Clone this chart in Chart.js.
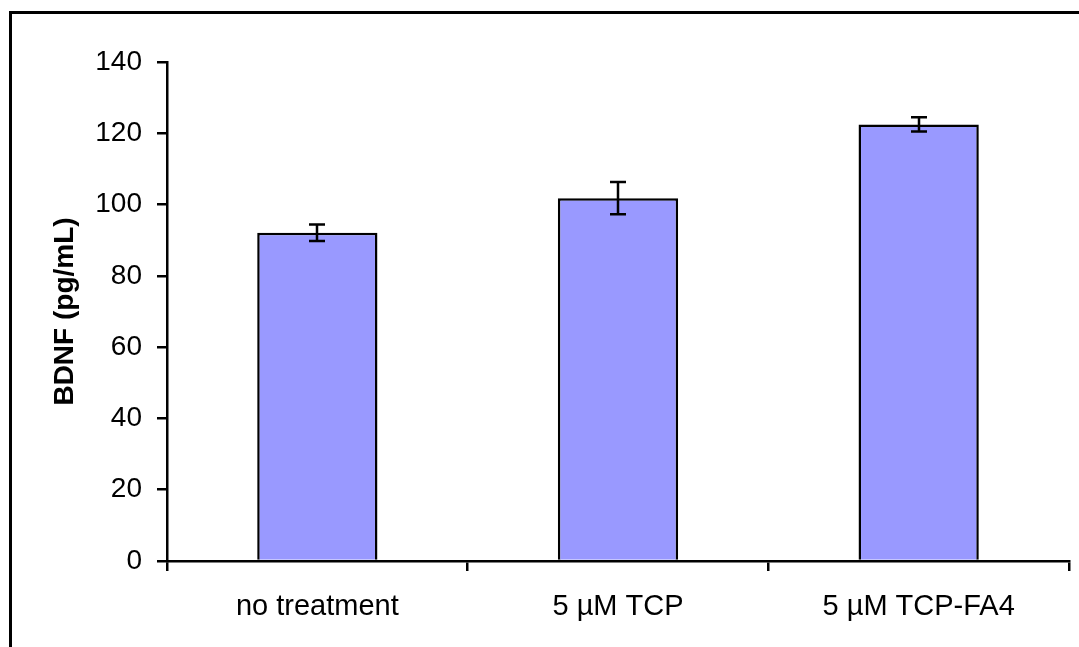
<!DOCTYPE html>
<html>
<head>
<meta charset="utf-8">
<script src="https://cdn.jsdelivr.net/npm/chart.js@4"></script>
<style>
  html, body { margin: 0; padding: 0; background: #fff; overflow: hidden; }
  #wrap { width: 1079px; height: 647px; }
</style>
</head>
<body>
<div id="wrap"><canvas id="chart"></canvas></div>
<script>
// valores
const categories = ["no treatment", "5 µM TCP", "5 µM TCP-FA4"];
const bdnfValues = [92.1, 101.8, 122.5];
const bdnfErrors = [2.3, 4.5, 2.0];
const yTicks = [0, 20, 40, 60, 80, 100, 120, 140];

const FONT = "'Liberation Sans', Arial, sans-serif";

// moldura externa (só as bordas esquerda e superior aparecem)
const framePlugin = {
  id: "frame",
  beforeDraw(chart) {
    const ctx = chart.ctx;
    ctx.save();
    ctx.fillStyle = "#fff";
    ctx.fillRect(0, 0, chart.width, chart.height);
    ctx.strokeStyle = "#000";
    ctx.lineWidth = 3;
    ctx.strokeRect(10.5, 12.5, 2000, 2000);
    ctx.restore();
  },
};

// barras de erro desenhadas pelas escalas do gráfico
const errorBarPlugin = {
  id: "errorBars",
  afterDatasetsDraw(chart) {
    const ctx = chart.ctx;
    const meta = chart.getDatasetMeta(0);
    const y = chart.scales.y;
    ctx.save();
    ctx.strokeStyle = "#000";
    ctx.lineWidth = 2.5;
    meta.data.forEach((bar, i) => {
      const x = Math.round(bar.x);
      const top = y.getPixelForValue(bdnfValues[i] + bdnfErrors[i]);
      const bot = y.getPixelForValue(bdnfValues[i] - bdnfErrors[i]);
      ctx.beginPath();
      ctx.moveTo(x, top);
      ctx.lineTo(x, bot);
      ctx.moveTo(x - 8, top);
      ctx.lineTo(x + 8, top);
      ctx.moveTo(x - 8, bot);
      ctx.lineTo(x + 8, bot);
      ctx.stroke();
    });
    ctx.restore();
  },
};

new Chart(document.getElementById("chart"), {
  type: "bar",
  data: {
    labels: categories,
    datasets: [
      {
        data: bdnfValues,
        backgroundColor: "#9999FF",
        borderColor: "#000",
        borderWidth: 2.5,
        categoryPercentage: 1,
        barPercentage: 0.4,
      },
    ],
  },
  options: {
    responsive: true,
    maintainAspectRatio: false,
    animation: false,
    layout: { padding: { top: 62, right: 10, left: 0, bottom: 0 } },
    plugins: {
      legend: { display: false },
      tooltip: { enabled: false },
    },
    scales: {
      x: {
        offset: true,
        grid: {
          offset: true,
          drawOnChartArea: false,
          drawTicks: true,
          tickLength: 10,
          color: "#000",
          lineWidth: 2.5,
        },
        border: { display: true, color: "#000", width: 2.5 },
        ticks: {
          color: "#000",
          font: { family: FONT, size: 29 },
          padding: 19,
          maxRotation: 0,
        },
        afterFit(scale) {
          scale.height = 647 - 561;
        },
      },
      y: {
        min: 0,
        max: 140,
        afterBuildTicks(scale) {
          scale.ticks = yTicks.map((v) => ({ value: v }));
        },
        grid: {
          drawOnChartArea: false,
          drawTicks: true,
          tickLength: 10,
          color: "#000",
          lineWidth: 2.5,
        },
        border: { display: true, color: "#000", width: 2.5 },
        ticks: {
          color: "#000",
          font: { family: FONT, size: 28 },
          padding: 15,
        },
        title: {
          display: true,
          text: "BDNF (pg/mL)",
          color: "#000",
          font: { family: FONT, size: 28, weight: "bold" },
          padding: { top: 48, bottom: 0 },
        },
        afterFit(scale) {
          scale.width = 167;
        },
      },
    },
  },
  plugins: [framePlugin, errorBarPlugin],
});
</script>
</body>
</html>
